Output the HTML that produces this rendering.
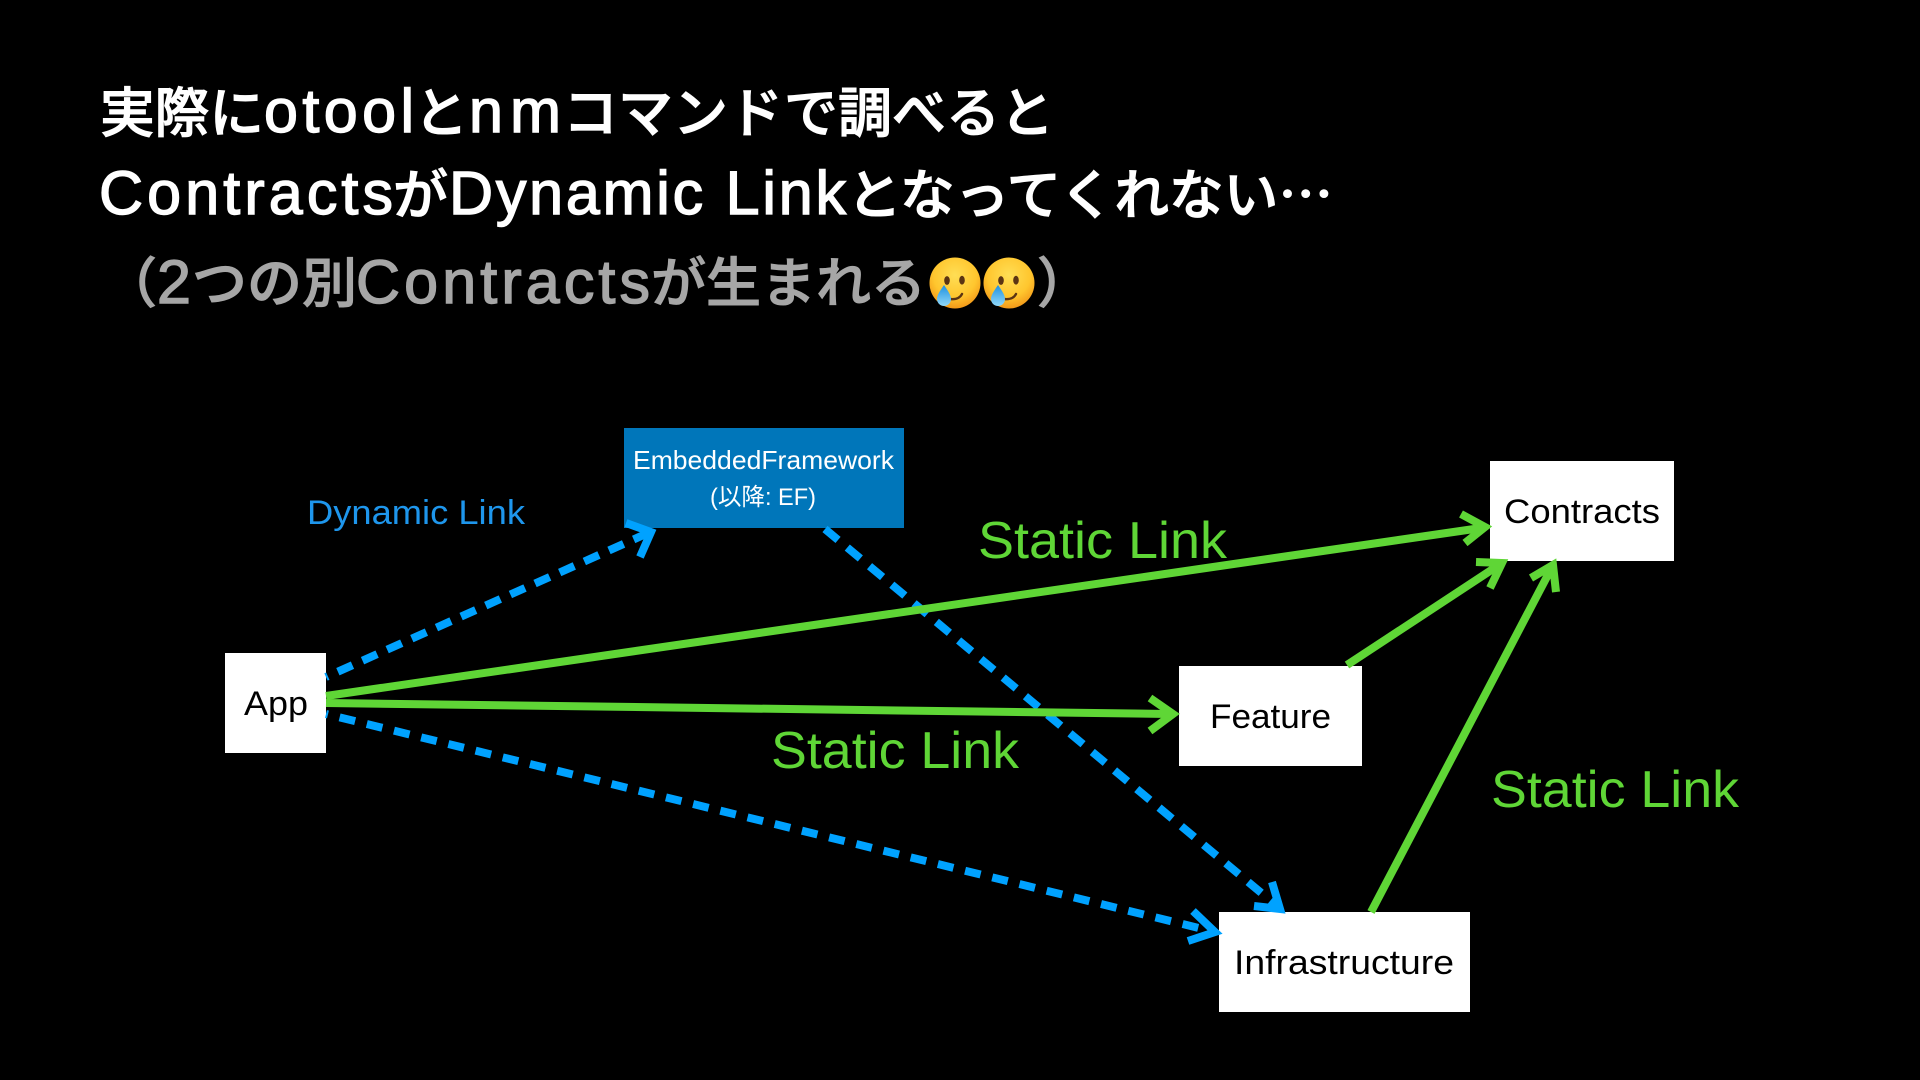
<!DOCTYPE html>
<html lang="ja">
<head>
<meta charset="utf-8">
<title>Diagram</title>
<style>
html,body{margin:0;padding:0;background:#000;width:1920px;height:1080px;overflow:hidden}
svg{display:block}
text{font-family:"Liberation Sans","Noto Sans CJK JP",sans-serif}
.c{font-family:"Noto Sans CJK JP","Liberation Sans",sans-serif;font-weight:500;font-size:54px;fill:#fff;stroke:#fff;stroke-width:1}
.l{font-family:"Liberation Sans",sans-serif;font-weight:400;font-size:61px;fill:#fff;stroke:#fff;stroke-width:1.4}
.gy{fill:#A6A6A6;stroke:#A6A6A6}
.n{font-size:34px;fill:#000}
.g{font-size:52px;fill:#5FD636}
</style>
</head>
<body>
<svg width="1920" height="1080" viewBox="0 0 1920 1080" xmlns="http://www.w3.org/2000/svg">
<defs>
<radialGradient id="f" cx="50%" cy="35%" r="70%">
<stop offset="0" stop-color="#FFDE55"/><stop offset="0.6" stop-color="#FFC62E"/><stop offset="1" stop-color="#F08F14"/>
</radialGradient>
<linearGradient id="d" x1="0" y1="0" x2="0" y2="1">
<stop offset="0" stop-color="#1E90E0"/><stop offset="1" stop-color="#8FD8F8"/>
</linearGradient>
<g id="e">
<circle r="25.5" fill="url(#f)"/>
<ellipse cx="-8" cy="-2.5" rx="2.8" ry="4.4" fill="#5B3413"/>
<ellipse cx="7" cy="-2.8" rx="2.8" ry="4.4" fill="#5B3413"/>
<path d="M-5,16 Q4,17 7,11" fill="none" stroke="#5B3413" stroke-width="2.4" stroke-linecap="round"/>
<path d="M-11,2 C-7,8 -4,12 -4,16 A7,7 0 0 1 -18,16 C-18,12 -15,8 -11,2Z" fill="url(#d)"/>
</g>
</defs>
<rect width="1920" height="1080" fill="#000"/>

<text class="c" x="100" y="132" textLength="164" lengthAdjust="spacingAndGlyphs">実際に</text>
<text class="l" x="264" y="132" textLength="150" lengthAdjust="spacing">otool</text>
<text class="c" x="414" y="132" textLength="54" lengthAdjust="spacingAndGlyphs">と</text>
<text class="l" x="469" y="132" textLength="92" lengthAdjust="spacing">nm</text>
<text class="c" x="563" y="132" textLength="220" lengthAdjust="spacingAndGlyphs">コマンド</text>
<text class="c" x="784" y="132" textLength="54" lengthAdjust="spacingAndGlyphs">で</text>
<text class="c" x="838" y="132" textLength="216" lengthAdjust="spacingAndGlyphs">調べると</text>

<text class="l" x="99" y="214" textLength="294" lengthAdjust="spacing">Contracts</text>
<text class="c" x="393" y="214" textLength="55" lengthAdjust="spacingAndGlyphs">が</text>
<text class="l" x="449" y="214" textLength="397" lengthAdjust="spacing">Dynamic Link</text>
<text class="c" x="847" y="214" textLength="486" lengthAdjust="spacingAndGlyphs">となってくれない…</text>

<text class="c gy" x="103" y="302" textLength="54" lengthAdjust="spacingAndGlyphs">（</text>
<text class="l gy" x="157" y="303">2</text>
<text class="c gy" x="192" y="302" textLength="165" lengthAdjust="spacingAndGlyphs">つの別</text>
<text class="l gy" x="356" y="303" textLength="294" lengthAdjust="spacing">Contracts</text>
<text class="c gy" x="651" y="302" textLength="275" lengthAdjust="spacingAndGlyphs">が生まれる</text>
<text class="c gy" x="1037" y="302" textLength="54" lengthAdjust="spacingAndGlyphs">）</text>
<use href="#e" x="955" y="283"/>
<use href="#e" x="1009" y="283"/>

<rect x="225" y="653" width="101" height="100" fill="#fff"/>
<rect x="624" y="428" width="280" height="100" fill="#0076BA"/>
<rect x="1490" y="461" width="184" height="100" fill="#fff"/>
<rect x="1179" y="666" width="183" height="100" fill="#fff"/>
<rect x="1219" y="912" width="251" height="100" fill="#fff"/>

<g fill="none" stroke="#00A2FF" stroke-width="8" stroke-linejoin="miter">
<path d="M326,677 L648,533" stroke-dasharray="16 11" stroke-dashoffset="14"/>
<path d="M626,523 L651,532 L640,557"/>
<path d="M825,529 L1277,906" stroke-dasharray="17 12"/>
<path d="M1272,882 L1280,909 L1254,906"/>
<path d="M326,714 L1211,931" stroke-dasharray="16 12" stroke-dashoffset="14"/>
<path d="M1193,911 L1215,932 L1188,941"/>
</g>
<g fill="none" stroke="#5FD636" stroke-width="8" stroke-linejoin="miter">
<path d="M326,696 L1481,528"/>
<path d="M1461,514 L1485,527 L1465,543"/>
<path d="M326,703 L1170,714"/>
<path d="M1150,698 L1173,714 L1150,731"/>
<path d="M1347,665 L1499,565"/>
<path d="M1476,562 L1502,563 L1490,588"/>
<path d="M1371,912 L1551,569"/>
<path d="M1531,578 L1553,565 L1556,592"/>
</g>

<text class="n" x="244" y="715" textLength="64" lengthAdjust="spacingAndGlyphs">App</text>
<text class="n" x="1504" y="523" textLength="156" lengthAdjust="spacingAndGlyphs">Contracts</text>
<text class="n" x="1210" y="728" textLength="121" lengthAdjust="spacingAndGlyphs">Feature</text>
<text class="n" x="1234" y="974" textLength="220" lengthAdjust="spacingAndGlyphs">Infrastructure</text>
<text x="633" y="469" font-size="26" fill="#fff" textLength="261" lengthAdjust="spacingAndGlyphs">EmbeddedFramework</text>
<text x="710" y="505" font-size="24" fill="#fff" textLength="106" lengthAdjust="spacingAndGlyphs">(以降: EF)</text>
<text x="307" y="524" font-size="34" fill="#1E96EC" textLength="218" lengthAdjust="spacingAndGlyphs">Dynamic Link</text>
<text class="g" x="978" y="558" textLength="249" lengthAdjust="spacingAndGlyphs">Static Link</text>
<text class="g" x="771" y="768" textLength="248" lengthAdjust="spacingAndGlyphs">Static Link</text>
<text class="g" x="1491" y="807" textLength="248" lengthAdjust="spacingAndGlyphs">Static Link</text>
</svg>
</body>
</html>
